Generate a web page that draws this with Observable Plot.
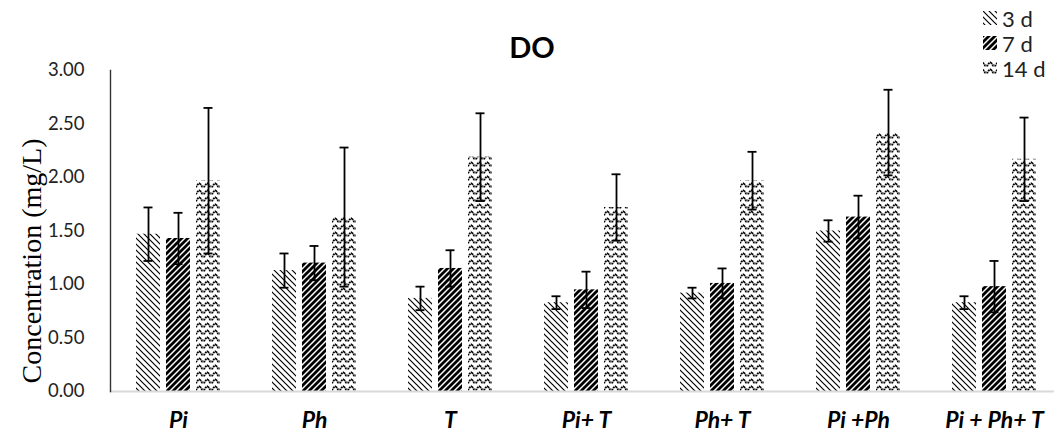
<!DOCTYPE html>
<html><head><meta charset="utf-8">
<script src="https://cdn.jsdelivr.net/npm/d3@7"></script>
<script src="https://cdn.jsdelivr.net/npm/@observablehq/plot@0.6"></script>
<style>
body{margin:0;background:#fff;}
#wrap{position:relative;width:1054px;height:438px;overflow:hidden;background:#fff;}
#title{position:absolute;left:432px;width:200px;top:29px;line-height:30px;text-align:center;font:bold 29px Lato,sans-serif;color:#000;}
#ylab{position:absolute;left:32px;top:261px;transform:translate(-50%,-50%) rotate(-90deg);white-space:nowrap;font:28px "Liberation Serif",serif;color:#000;}
#legend{position:absolute;left:983px;top:5.5px;font:22px Lato,sans-serif;color:#222;}
.row{display:flex;align-items:center;height:25px;}
.row svg{margin-right:5px;}
</style></head>
<body>
<svg width="0" height="0" style="position:absolute">
<defs>
<pattern id="p3" patternUnits="userSpaceOnUse" width="6" height="6">
<rect width="6" height="6" fill="#fff"/>
<path d="M0,0L6,6M-3,3L3,9M3,-3L9,3" stroke="#000" stroke-width="1.2"/>
</pattern>
<pattern id="p7" patternUnits="userSpaceOnUse" width="6" height="6">
<rect width="6" height="6" fill="#fff"/>
<path d="M0,6L6,0M-3,3L3,-3M3,9L9,3" stroke="#000" stroke-width="2.8"/>
</pattern>
<pattern id="p14" patternUnits="userSpaceOnUse" width="8" height="7">
<rect width="8" height="7" fill="#fff"/>
<path d="M0,1.5L2,4.5L4.5,4.5L6.5,1.5L8,1.5" fill="none" stroke="#000" stroke-width="1.8" stroke-dasharray="1.8 0.7"/>
</pattern>
</defs>
</svg>
<div id="wrap">
<div id="chart"></div>
<div id="title">DO</div>
<div id="ylab">Concentration (mg/L)</div>
<div id="legend"></div>
</div>
<script>
const groups = ["Pi", "Ph", "T", "Pi+ T", "Ph+ T", "Pi +Ph", "Pi + Ph+ T"];
const series = ["3 d", "7 d", "14 d"];
const mean3d  = [1.47, 1.13, 0.87, 0.83, 0.92, 1.50, 0.83];
const err3d   = [0.25, 0.16, 0.11, 0.06, 0.05, 0.10, 0.06];
const mean7d  = [1.43, 1.20, 1.15, 0.95, 1.01, 1.63, 0.98];
const err7d   = [0.24, 0.16, 0.17, 0.17, 0.14, 0.20, 0.24];
const mean14d = [1.97, 1.63, 2.19, 1.72, 1.97, 2.42, 2.17];
const err14d  = [0.68, 0.65, 0.41, 0.31, 0.27, 0.40, 0.39];
const yTicks = [0, 0.5, 1, 1.5, 2, 2.5, 3];
const patterns = {"3 d": "url(#p3)", "7 d": "url(#p7)", "14 d": "url(#p14)"};

const means = [mean3d, mean7d, mean14d];
const errs = [err3d, err7d, err14d];
const data = [];
groups.forEach((g, i) => series.forEach((s, j) => data.push({group: g, series: s, value: means[j][i], err: errs[j][i]})));

const plot = Plot.plot({
  width: 1054, height: 438,
  marginLeft: 110, marginRight: -8, marginTop: 70, marginBottom: 47,
  style: {fontFamily: "Lato, sans-serif", background: "#fff", color: "#222"},
  fx: {domain: groups, paddingInner: 0, paddingOuter: 0, axis: null, label: null},
  x: {domain: series, paddingInner: 0.2, paddingOuter: 0.84, axis: null},
  y: {domain: [0, 3], axis: null},
  color: {type: "identity"},
  marks: [
    Plot.barY(data, {fx: "group", x: "series", y: "value", fill: d => patterns[d.series]}),
    Plot.frame({anchor: "bottom", facet: "super", stroke: "#d9d9d9", strokeWidth: 1.8}),
    Plot.frame({anchor: "left", facet: "super", stroke: "#333", strokeWidth: 1.4}),
    Plot.ruleX(data, {fx: "group", x: "series", y1: d => d.value - d.err, y2: d => d.value + d.err, stroke: "#000", strokeWidth: 1.8}),
    Plot.tickY(data, {fx: "group", x: "series", y: d => d.value + d.err, insetLeft: 7.5, insetRight: 7.5, stroke: "#000", strokeWidth: 1.8}),
    Plot.tickY(data, {fx: "group", x: "series", y: d => d.value - d.err, insetLeft: 7.5, insetRight: 7.5, stroke: "#000", strokeWidth: 1.8}),
    Plot.axisY({ticks: yTicks, tickFormat: d3.format(".2f"), tickSize: 0, tickPadding: 26, fontSize: 18.5, label: null, fill: "#222"}),
    Plot.axisFx({anchor: "bottom", tickSize: 0, tickPadding: 20, fontSize: 23, fontWeight: "bold", fontStyle: "italic", label: null, fill: "#000"})
  ]
});
document.getElementById("chart").appendChild(plot);

const legend = document.getElementById("legend");
series.forEach(s => {
  const row = document.createElement("div");
  row.className = "row";
  row.innerHTML = `<svg width="14" height="14"><rect width="14" height="14" fill="${patterns[s]}"/></svg><span>${s}</span>`;
  legend.appendChild(row);
});
</script>
</body></html>
